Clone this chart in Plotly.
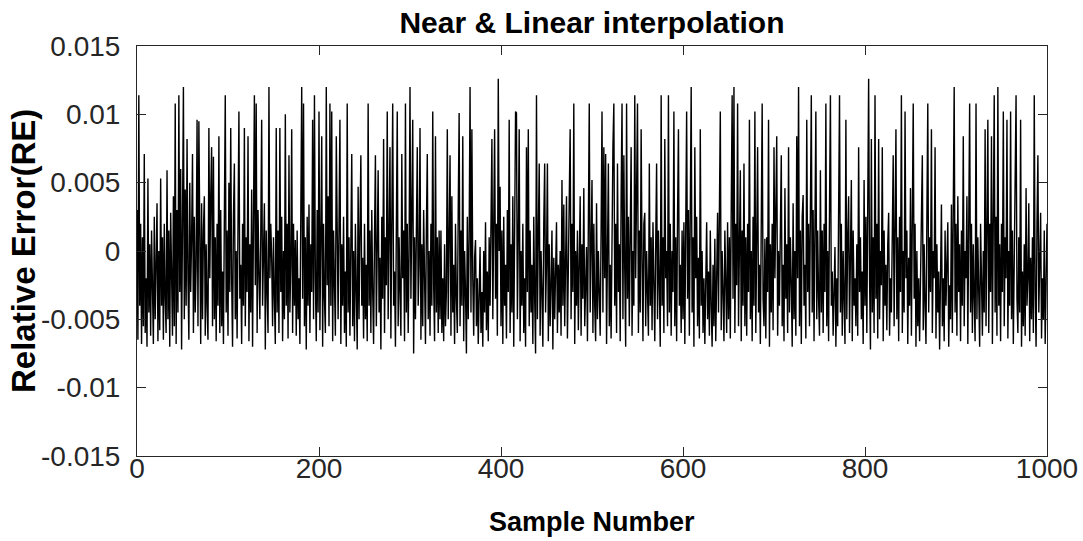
import plotly.graph_objects as go

# Relative error samples, in units of 1e-4
seg_000 = [30, -65, 114, -40, 20, -68, 10, -55, 71, -60, -20, -70, 53, -45, 5, -62, 15, -30, -68, 25,
           -50, -10, 35, -66, 0, -58, 53, -40, 10, -65, 20, -35, -60, 59, -50, 15, -70, 28, -25, -62,
           40, -55, 108, -68, 30, -45, 114, -30, 60, -72, 20, 120, -50, 45, -40, 82, -20, -65, 50, -30,
           10, 71, -60, 25, -45, -10, 96, -55, 95, 0, -68, 35, -50, 15, 40, -62, 5, -40, -65, 90,
           -20, 40, 76, -55]
seg_084 = [69, -50, 10, -66, 20, -40, 84, -60, 30, -55, -15, -68, 40, 114, -45, 15, -62, 50, -30, 90,
           -20, -70, 25, 64, -50, 0, -64, 30, 102, -35, -10, -68, 20, -40, 90, -55, 10, -30, 84, -66,
           5, -45, 45, -70, 20, 114, -25, 108, -60, 30, -15, -50, 10, 96, -40, 5, 35, -72, 15, -30,
           -60, 120, -20, 20, -5, -55, 10, -35, -68, 90, -45, 15, -60, 90, -30, 25, -66, 0, -50, 100,
           -40, 20, -64]
seg_167 = [70, -45, -10, 89, -60, 20, -40, 8, -62, 15, -50, -20, -68, 30, 120, -35, 108, -55, 10, -72,
           25, -40, 34, -60, 5, -30, 96, -50, 114, -20, -66, 30, -45, 102, -58, 10, 84, -70, 20, -35,
           -60, 120, -25, 40, -55, 108, -40, 102, -66, 15, -30, -62, 84, -10, -50, 20, 96, -68, 5, -40,
           25, -60, -15, -70, 108, -45, 10, -62, 30, 71, -55, 0, -66, 20, -30, -72, 47, -50, 15, 70,
           -40, -5, -64]
seg_250 = [20, -50, -10, -66, 108, -40, 15, -60, 30, -30, -68, 10, 70, -55, 20, 59, -45, -5, -72, 25,
           -35, 82, -60, 10, -25, 102, -50, 5, 76, -64, 20, 108, -40, -15, -70, 30, 102, -55, 10, -30,
           -62, 71, -20, 15, -66, 108, -45, 20, -60, 0, 120, -35, 40, 96, -75, 10, -50, 25, 76, -40,
           -10, 90, -65, 5, -55, 30, -30, -68, 15, 71, -50, 0, -62, 20, -40, 102, -25, -66, 84, -45,
           10, -60, 15, -50]
seg_334 = [15, -60, -20, -66, 5, -55, -30, 89, -50, 10, 70, -62, 40, -45, -10, -68, 20, -35, -60, 30,
           101, -55, 15, -40, 84, -66, 0, -30, -75, 25, -50, 10, 120, -45, 89, -20, -62, -5, 8, -55,
           -20, -68, -10, 3, -60, -30, -70, 0, -45, 21, -58, -15, -66, 10, -40, 30, 82, -50, 45, 89,
           -35, 20, -62, 126, 0, 47, -55, 15, -68, 25, -40, -10, -64, 30, -30, 96, -60, 5, -45, 40,
           -70, 20, 102]
seg_417 = [101, -50, 10, 89, -66, 0, -40, 20, -60, -20, -70, 76, -30, 89, -55, 15, -45, -10, -68, 25,
           -35, -75, 114, -50, 10, 64, -62, 0, -30, -70, 20, 64, -45, -10, 64, -66, 5, -55, -25, 15,
           -72, -5, -50, -20, 21, -60, -10, -45, 0, -62, 52, -40, 34, -55, 10, 40, -64, -15, 5, 89,
           -50, 20, -30, 108, -68, 0, -40, 15, -58, -20, 40, -62, 5, -35, 46, -55, -15, 3, -66, 10,
           108, -45, -10, 52]
seg_501 = [-60, 20, -40, -66, 35, -50, 0, -30, -62, 15, 102, -45, 76, -20, 71, -68, 10, 64, -55, -10,
           -64, 30, 76, 108, -40, 20, -60, 64, -30, 5, -66, 40, 108, -50, 70, -15, -70, 108, -35, 25,
           -55, 10, 76, -62, 0, -40, 114, -20, 30, 108, -60, 15, -45, 89, -5, -66, 20, 28, -55, 0,
           -30, -62, 64, -40, 10, -58, 21, -35, -66, 5, 64, -50, 15, -25, -70, 114, -40, 10, -60, 82,
           -20, 0, -55, 114]
seg_585 = [-45, 20, -62, 0, -30, 102, -55, 10, -66, 25, 89, -40, -10, -60, 15, -50, 21, -68, 5, 102,
           -35, 30, -62, 40, 120, -45, 10, -70, 76, -20, 25, -55, -5, -64, 89, -40, 0, -60, -20, -68,
           -5, 21, -50, -15, -62, 15, -40, -70, -10, -55, 9, -66, -20, 28, -45, 10, 102, -58, 0, -30,
           -66, 15, -40, -60, 21, -50, 10, -64, 30, 114, -35, 120, -60, 20, -25, 108, -55, 5, 59, -66,
           15, -40, 64]
seg_668 = [-55, 10, -62, 20, -30, 96, -50, 0, -66, 25, -40, 102, -60, 15, 76, -45, -10, -68, 20, 108,
           -35, -55, 9, -64, 10, -30, 96, -70, 5, -45, 20, -58, 76, -20, 30, 84, -62, 0, -40, 15,
           70, -55, -10, -66, 46, -35, 5, -60, 76, -45, 10, -25, -70, 35, -50, 0, -62, 84, -20, 120,
           -55, 15, -68, 25, 41, -40, -10, -64, 96, -30, 20, -55, 10, 114, -45, 30, -66, 0, 102, -50,
           15, -35, -62, 59]
seg_752 = [-45, 15, -60, 20, -30, 108, -55, 0, -66, 30, 114, -40, -15, -62, -30, 3, -70, -20, -55, 10,
           114, -45, 20, -62, 0, -35, -68, 96, -50, 10, 40, -60, -5, 52, -66, 15, -40, -20, -55, 5,
           -62, 76, -30, 10, -50, -15, -68, 52, -40, 25, -60, 30, 126, -20, -72, 82, -45, 10, -60, 114,
           -35, 20, -64, 82, -50, 0, -25, 76, -66, 15, -40, -10, -58, 5, 28, -62, -20, -45, 10, 70,
           -55, 20, 89]
seg_835 = [-50, 10, -66, 25, -30, 114, -60, 0, -45, 102, -20, 15, -68, -5, -40, 46, -62, 10, 108, -35,
           20, -70, 0, -55, -20, -66, -10, 9, 70, -58, 5, -40, -68, 25, 108, -45, 10, -30, 89, -60,
           0, -20, 76, -64, 5, -45, -15, -72, 0, 34, -55, -20, -66, 15, -40, -10, 21, -70, -25, -50,
           34, -60, 10, 120, -45, 20, -62, 40, -30, 5, -66, 15, -40, 84, -55, 0, -20, 40, -68, 10,
           108, -45, 20]
seg_918 = [-60, 5, -35, -66, 108, -50, 10, -40, -70, 20, -30, -62, 0, -45, 89, -55, 15, 96, -60, 20,
           -30, 84, -68, 10, 114, -45, 25, -62, 120, -40, 5, -66, 20, -30, 102, -55, 10, -20, 96, -64,
           0, -40, 102, -50, 15, -68, -10, 30, 114, -35, -60, 10, -45, 96, -70, -15, -55, 5, -62, 46,
           -40, -20, 35, -66, -5, -50, 10, -60, 114, -30, -70, 20, 70, -45, -10, 28, -64, -20, -50, 15,
           -68, 5, 20]

re_e4 = (seg_000 + seg_084 + seg_167 + seg_250 + seg_334 + seg_417 + seg_501 + seg_585
         + seg_668 + seg_752 + seg_835 + seg_918)
relative_error = [v * 1e-4 for v in re_e4]
sample_number = list(range(len(relative_error)))

x_ticks = [0, 200, 400, 600, 800, 1000]
y_ticks = [-0.015, -0.01, -0.005, 0, 0.005, 0.01, 0.015]
y_tick_text = ["-0.015", "-0.01", "-0.005", "0", "0.005", "0.01", "0.015"]

title_text = "Near & Linear interpolation"
x_title = "Sample Number"
y_title = "Relative Error(RE)"

axis_color = "#262626"
font_family = "Liberation Sans, Arial, Helvetica, sans-serif"

fig = go.Figure()
fig.add_trace(go.Scatter(
    x=sample_number, y=relative_error, mode="lines",
    line=dict(color="black", width=1.4), showlegend=False,
))

fig.update_layout(
    width=1083, height=541,
    margin=dict(l=137, r=36, t=46, b=85),
    paper_bgcolor="white", plot_bgcolor="white",
    font=dict(family=font_family, color=axis_color, size=28),
    title=dict(text="<b>" + title_text + "</b>", x=0.5, xanchor="center",
               xref="paper", y=1 - 22 / 541, yanchor="middle",
               font=dict(size=30, color="black", family=font_family)),
    annotations=[
        dict(text="<b>" + x_title + "</b>", xref="paper", yref="paper", x=0.5, y=0,
             xanchor="center", yanchor="middle", yshift=-66, showarrow=False,
             font=dict(size=27, color="black", family=font_family)),
        dict(text="<b>" + y_title + "</b>", xref="paper", yref="paper", x=0, y=0.5,
             xanchor="center", yanchor="middle", xshift=-114, textangle=-90, showarrow=False,
             font=dict(size=33, color="black", family=font_family)),
    ],
)
fig.update_xaxes(
    range=[0, 1000], tickvals=x_ticks, ticks="inside", ticklen=9, tickwidth=1,
    tickcolor=axis_color, showline=True, linecolor=axis_color, linewidth=1, mirror="ticks",
    showgrid=False, zeroline=False, tickfont=dict(size=28, color=axis_color),
    ticklabelstandoff=-13, automargin=False,
)
fig.update_yaxes(
    range=[-0.015, 0.015], tickvals=y_ticks, ticktext=y_tick_text, ticks="inside", ticklen=9,
    tickwidth=1, tickcolor=axis_color, showline=True, linecolor=axis_color, linewidth=1,
    mirror="ticks", showgrid=False, zeroline=False, tickfont=dict(size=28, color=axis_color),
    ticklabelstandoff=10, automargin=False,
)

fig.write_html("out.html", config={"displayModeBar": False},
               post_script="document.body.style.margin='0';")
